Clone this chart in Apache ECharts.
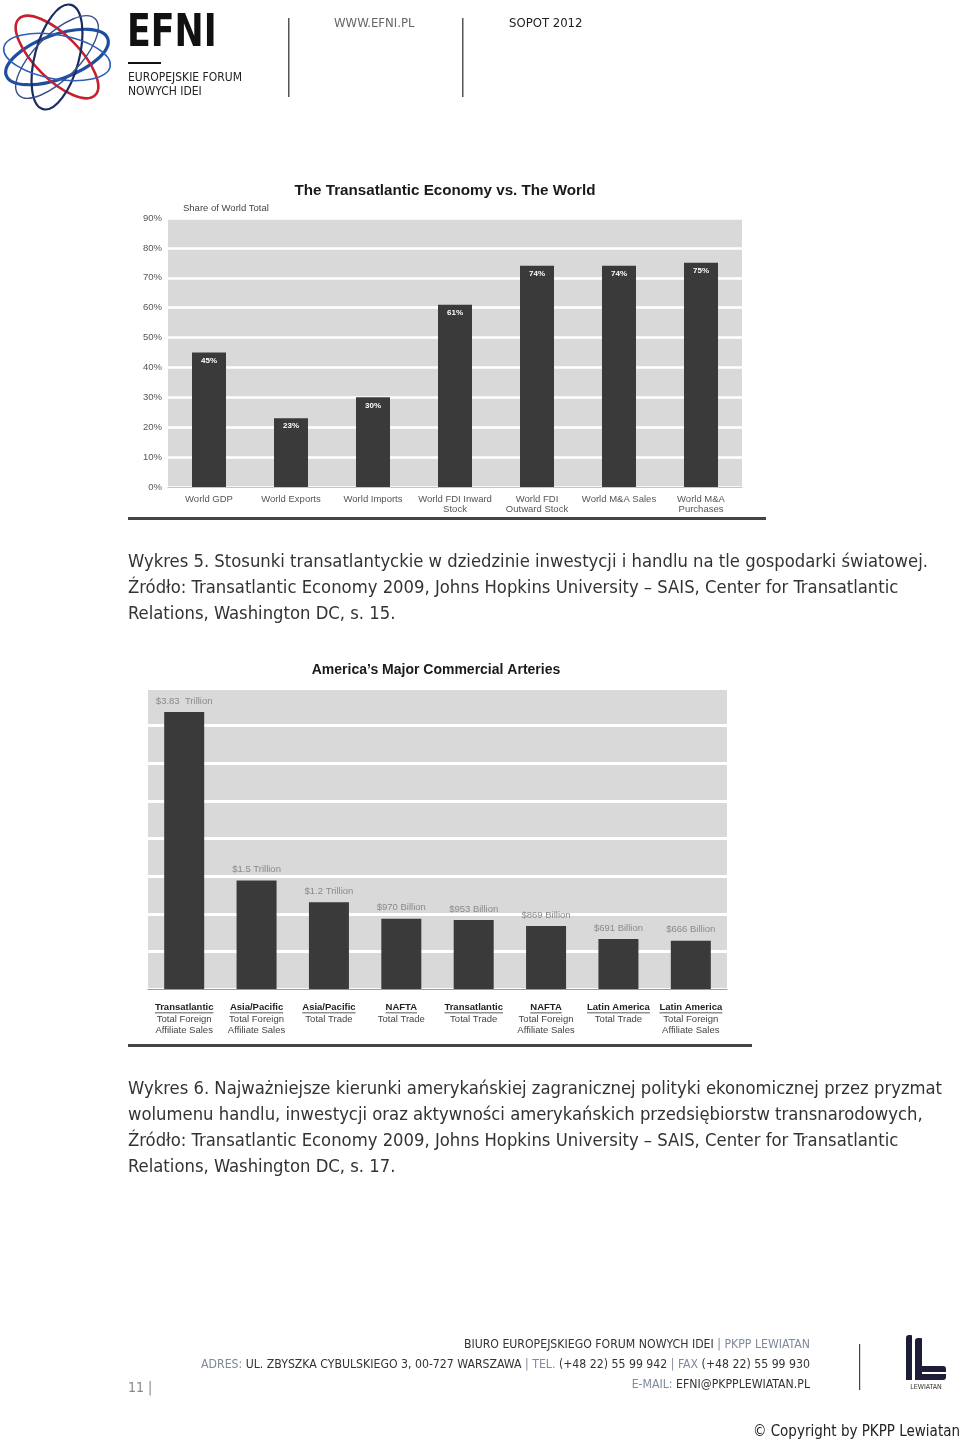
<!DOCTYPE html>
<html>
<head>
<meta charset="utf-8">
<script src="https://cdn.jsdelivr.net/npm/echarts@6/dist/echarts.min.js"></script>
<style>
html,body{margin:0;padding:0;background:#fff;}
#c{width:960px;height:1442px;}
</style>
</head>
<body>
<div id="c"></div>
<script>
// ---- Chart 1 data: The Transatlantic Economy vs. The World ----
const cat1 = ['World GDP', 'World Exports', 'World Imports', 'World FDI Inward\nStock', 'World FDI\nOutward Stock', 'World M&A Sales', 'World M&A\nPurchases'];
const share1 = [45, 23, 30, 61, 74, 74, 75];
const yMax1 = 90, yStep1 = 10;

// ---- Chart 2 data: America's Major Commercial Arteries (USD billion) ----
const region2 = ['Transatlantic', 'Asia/Pacific', 'Asia/Pacific', 'NAFTA', 'Transatlantic', 'NAFTA', 'Latin America', 'Latin America'];
const measure2 = ['Total Foreign\nAffiliate Sales', 'Total Foreign\nAffiliate Sales', 'Total Trade', 'Total Trade', 'Total Trade', 'Total Foreign\nAffiliate Sales', 'Total Trade', 'Total Foreign\nAffiliate Sales'];
const value2 = [3830, 1500, 1200, 970, 953, 869, 691, 666];
const valueLabel2 = ['$3.83  Trillion', '$1.5 Trillion', '$1.2 Trillion', '$970 Billion', '$953 Billion', '$869 Billion', '$691 Billion', '$666 Billion'];

// ---- Page texts ----
const caption1 = ['Wykres 5. Stosunki transatlantyckie w dziedzinie inwestycji i handlu na tle gospodarki światowej.',
  'Źródło: Transatlantic Economy 2009, Johns Hopkins University – SAIS, Center for Transatlantic',
  'Relations, Washington DC, s. 15.'];
const caption2 = ['Wykres 6. Najważniejsze kierunki amerykańskiej zagranicznej polityki ekonomicznej przez pryzmat',
  'wolumenu handlu, inwestycji oraz aktywności amerykańskich przedsiębiorstw transnarodowych,',
  'Źródło: Transatlantic Economy 2009, Johns Hopkins University – SAIS, Center for Transatlantic',
  'Relations, Washington DC, s. 17.'];

const SANS = '"Liberation Sans", Arial, sans-serif';
const NARROW = '"Liberation Sans Narrow", "Liberation Sans", Arial, sans-serif';
const TAHOMA = '"DejaVu Sans Condensed", "DejaVu Sans", sans-serif';

const chart = echarts.init(document.getElementById('c'), null, {renderer: 'canvas'});

const cat2 = region2.map((r, i) => r + '|' + measure2[i]);

function txt(text, x, y, font, fill, align, extra) {
  return Object.assign({type: 'text', x: x, y: y, silent: true,
    style: {text: text, font: font, fill: fill, align: align || 'left', verticalAlign: 'middle'}}, extra || {});
}

const staticGraphic = [];
// EFNI logo rings
[[20, '#1d4fa0', 3.2], [-45, '#c8202f', 2.6], [75, '#1b2b63', 2.2], [-10, '#2d5fb8', 1.6], [45, '#3a4f8a', 1.4]].forEach(function (r) {
  staticGraphic.push({type: 'ellipse', x: 57, y: 57, rotation: r[0] * Math.PI / 180, silent: true,
    shape: {cx: 0, cy: 0, rx: 54, ry: 22}, style: {fill: 'none', stroke: r[1], lineWidth: r[2]}});
});
staticGraphic.push(txt('EFNI', 127, 35, 'bold 44px ' + TAHOMA, '#111', 'left', {scaleX: 0.88}));
staticGraphic.push({type: 'rect', silent: true, shape: {x: 128, y: 62, width: 33, height: 2}, style: {fill: '#111'}});
staticGraphic.push(txt('EUROPEJSKIE FORUM', 128, 78, '12px ' + TAHOMA, '#222'));
staticGraphic.push(txt('NOWYCH IDEI', 128, 92, '12px ' + TAHOMA, '#222'));
staticGraphic.push({type: 'rect', silent: true, shape: {x: 288, y: 18, width: 1.5, height: 79}, style: {fill: '#555'}});
staticGraphic.push({type: 'rect', silent: true, shape: {x: 462, y: 18, width: 1.5, height: 79}, style: {fill: '#555'}});
staticGraphic.push(txt('WWW.EFNI.PL', 334, 24, '13px ' + TAHOMA, '#666'));
staticGraphic.push(txt('SOPOT 2012', 509, 24, '13px ' + TAHOMA, '#222'));

// Chart titles
staticGraphic.push(txt('The Transatlantic Economy vs. The World', 445, 191, 'bold 15.2px ' + SANS, '#1a1a1a', 'center'));
staticGraphic.push(txt('Share of World Total', 183, 208, '9.5px ' + SANS, '#444'));
staticGraphic.push(txt('America\u2019s Major Commercial Arteries', 436, 670, 'bold 14px ' + SANS, '#1a1a1a', 'center'));

// Rules under charts
staticGraphic.push({type: 'rect', silent: true, shape: {x: 128, y: 517, width: 638, height: 3}, style: {fill: '#444'}});
staticGraphic.push({type: 'rect', silent: true, shape: {x: 128, y: 1044, width: 624, height: 3}, style: {fill: '#444'}});

// Captions
caption1.forEach(function (t, i) { staticGraphic.push(txt(t, 128, 562 + i * 26, '18.3px ' + TAHOMA, '#333')); });
caption2.forEach(function (t, i) { staticGraphic.push(txt(t, 128, 1089 + i * 26, '18.3px ' + TAHOMA, '#333')); });

// Footer
const FOOT = '12.2px ' + TAHOMA;
const footRich = {d: {font: FOOT, fill: '#333'}, g: {font: FOOT, fill: '#7f8a9a'}};
staticGraphic.push({type: 'text', x: 810, y: 1345, silent: true, style: {
  text: '{d|BIURO EUROPEJSKIEGO FORUM NOWYCH IDEI }{g|| PKPP LEWIATAN}', align: 'right', verticalAlign: 'middle', rich: footRich}});
staticGraphic.push({type: 'text', x: 810, y: 1365, silent: true, style: {
  text: '{g|ADRES: }{d|UL. ZBYSZKA CYBULSKIEGO 3, 00-727 WARSZAWA }{g|| TEL. }{d|(+48 22) 55 99 942 }{g|| FAX }{d|(+48 22) 55 99 930}',
  align: 'right', verticalAlign: 'middle', rich: footRich}});
staticGraphic.push({type: 'text', x: 810, y: 1385, silent: true, style: {
  text: '{g|E-MAIL: }{d|EFNI@PKPPLEWIATAN.PL}', align: 'right', verticalAlign: 'middle', rich: footRich}});
staticGraphic.push({type: 'rect', silent: true, shape: {x: 859, y: 1344, width: 1.2, height: 46}, style: {fill: '#444'}});
// Lewiatan logo
staticGraphic.push({type: 'rect', silent: true, shape: {x: 906, y: 1335, width: 6, height: 45, r: [3, 1, 0, 0]}, style: {fill: '#1d1d3a'}});
staticGraphic.push({type: 'rect', silent: true, shape: {x: 915, y: 1338, width: 7, height: 42, r: [3, 1, 0, 0]}, style: {fill: '#1d1d3a'}});
staticGraphic.push({type: 'rect', silent: true, shape: {x: 922, y: 1366, width: 24, height: 6, r: [0, 3, 0, 0]}, style: {fill: '#1d1d3a'}});
staticGraphic.push({type: 'rect', silent: true, shape: {x: 922, y: 1374, width: 24, height: 6, r: [0, 0, 3, 0]}, style: {fill: '#1d1d3a'}});
staticGraphic.push(txt('LEWIATAN', 926, 1387, '7px ' + TAHOMA, '#333', 'center'));
staticGraphic.push(txt('11 |', 128, 1388, '14px ' + TAHOMA, '#888'));
staticGraphic.push(txt('\u00A9 Copyright by PKPP Lewiatan', 960, 1432, '15px ' + TAHOMA, '#222', 'right'));

const option = {
  animation: false,
  backgroundColor: '#ffffff',
  grid: [
    {left: 168, top: 218, width: 574, height: 269, show: true, backgroundColor: '#d9d9d9', borderWidth: 0, outerBoundsMode: 'none', containLabel: false},
    {left: 148, top: 688, width: 579, height: 301, show: true, backgroundColor: '#d9d9d9', borderWidth: 0, outerBoundsMode: 'none', containLabel: false}
  ],
  xAxis: [
    {type: 'category', gridIndex: 0, data: cat1, axisTick: {show: false},
      axisLine: {lineStyle: {color: '#c4c4c4', width: 1}},
      axisLabel: {interval: 0, fontSize: 9.5, color: '#555', margin: 7, lineHeight: 10.5, fontFamily: SANS}},
    {type: 'category', gridIndex: 1, data: cat2, axisTick: {show: false},
      axisLine: {lineStyle: {color: '#9a9a9a', width: 1}},
      axisLabel: {interval: 0, margin: 13,
        formatter: function (v, i) {
          return '{u|' + region2[i] + '}\n' + measure2[i].split('\n').map(function (s) { return '{n|' + s + '}'; }).join('\n');
        },
        rich: {
          u: {fontSize: 9.5, fontWeight: 'bold', color: '#222', lineHeight: 11.5, fontFamily: NARROW},
          n: {fontSize: 9.5, color: '#444', lineHeight: 11.5, fontFamily: NARROW}
        }}}
  ],
  yAxis: [
    {type: 'value', gridIndex: 0, min: 0, max: yMax1, interval: yStep1,
      axisLine: {show: false}, axisTick: {show: false},
      axisLabel: {formatter: '{value}%', fontSize: 9.5, color: '#555', margin: 6, fontFamily: SANS},
      splitLine: {lineStyle: {color: '#ffffff', width: 2.5}}},
    {type: 'value', gridIndex: 1, min: 0, max: 4160, interval: 520,
      axisLine: {show: false}, axisTick: {show: false}, axisLabel: {show: false},
      splitLine: {lineStyle: {color: '#ffffff', width: 3}}}
  ],
  series: [
    {type: 'bar', xAxisIndex: 0, yAxisIndex: 0, data: share1, barWidth: 34,
      itemStyle: {color: '#3a3a3a'},
      label: {show: true, position: 'insideTop', distance: 4, formatter: '{c}%', color: '#ffffff',
        fontSize: 8, fontWeight: 'bold', fontFamily: SANS}},
    {type: 'bar', xAxisIndex: 1, yAxisIndex: 1, data: value2, barWidth: 40,
      itemStyle: {color: '#3a3a3a'},
      label: {show: true, position: 'top', distance: 6, color: '#8a8a8a', fontSize: 9.5, fontFamily: NARROW,
        formatter: function (p) { return valueLabel2[p.dataIndex]; }}}
  ],
  graphic: staticGraphic
};
chart.setOption(option);

// Underline the region names on chart 2 category labels
const ctx = document.createElement('canvas').getContext('2d');
ctx.font = 'bold 9.5px ' + NARROW;
const base2 = chart.convertToPixel({yAxisIndex: 1}, 0);
const ul = region2.map(function (r, i) {
  const cx = chart.convertToPixel({xAxisIndex: 1}, i);
  const w = ctx.measureText(r).width;
  return {type: 'rect', silent: true, shape: {x: cx - w / 2, y: base2 + 13 + 10.5, width: w, height: 0.8}, style: {fill: '#222'}};
});
chart.setOption({graphic: staticGraphic.concat(ul)});
</script>
</body>
</html>
